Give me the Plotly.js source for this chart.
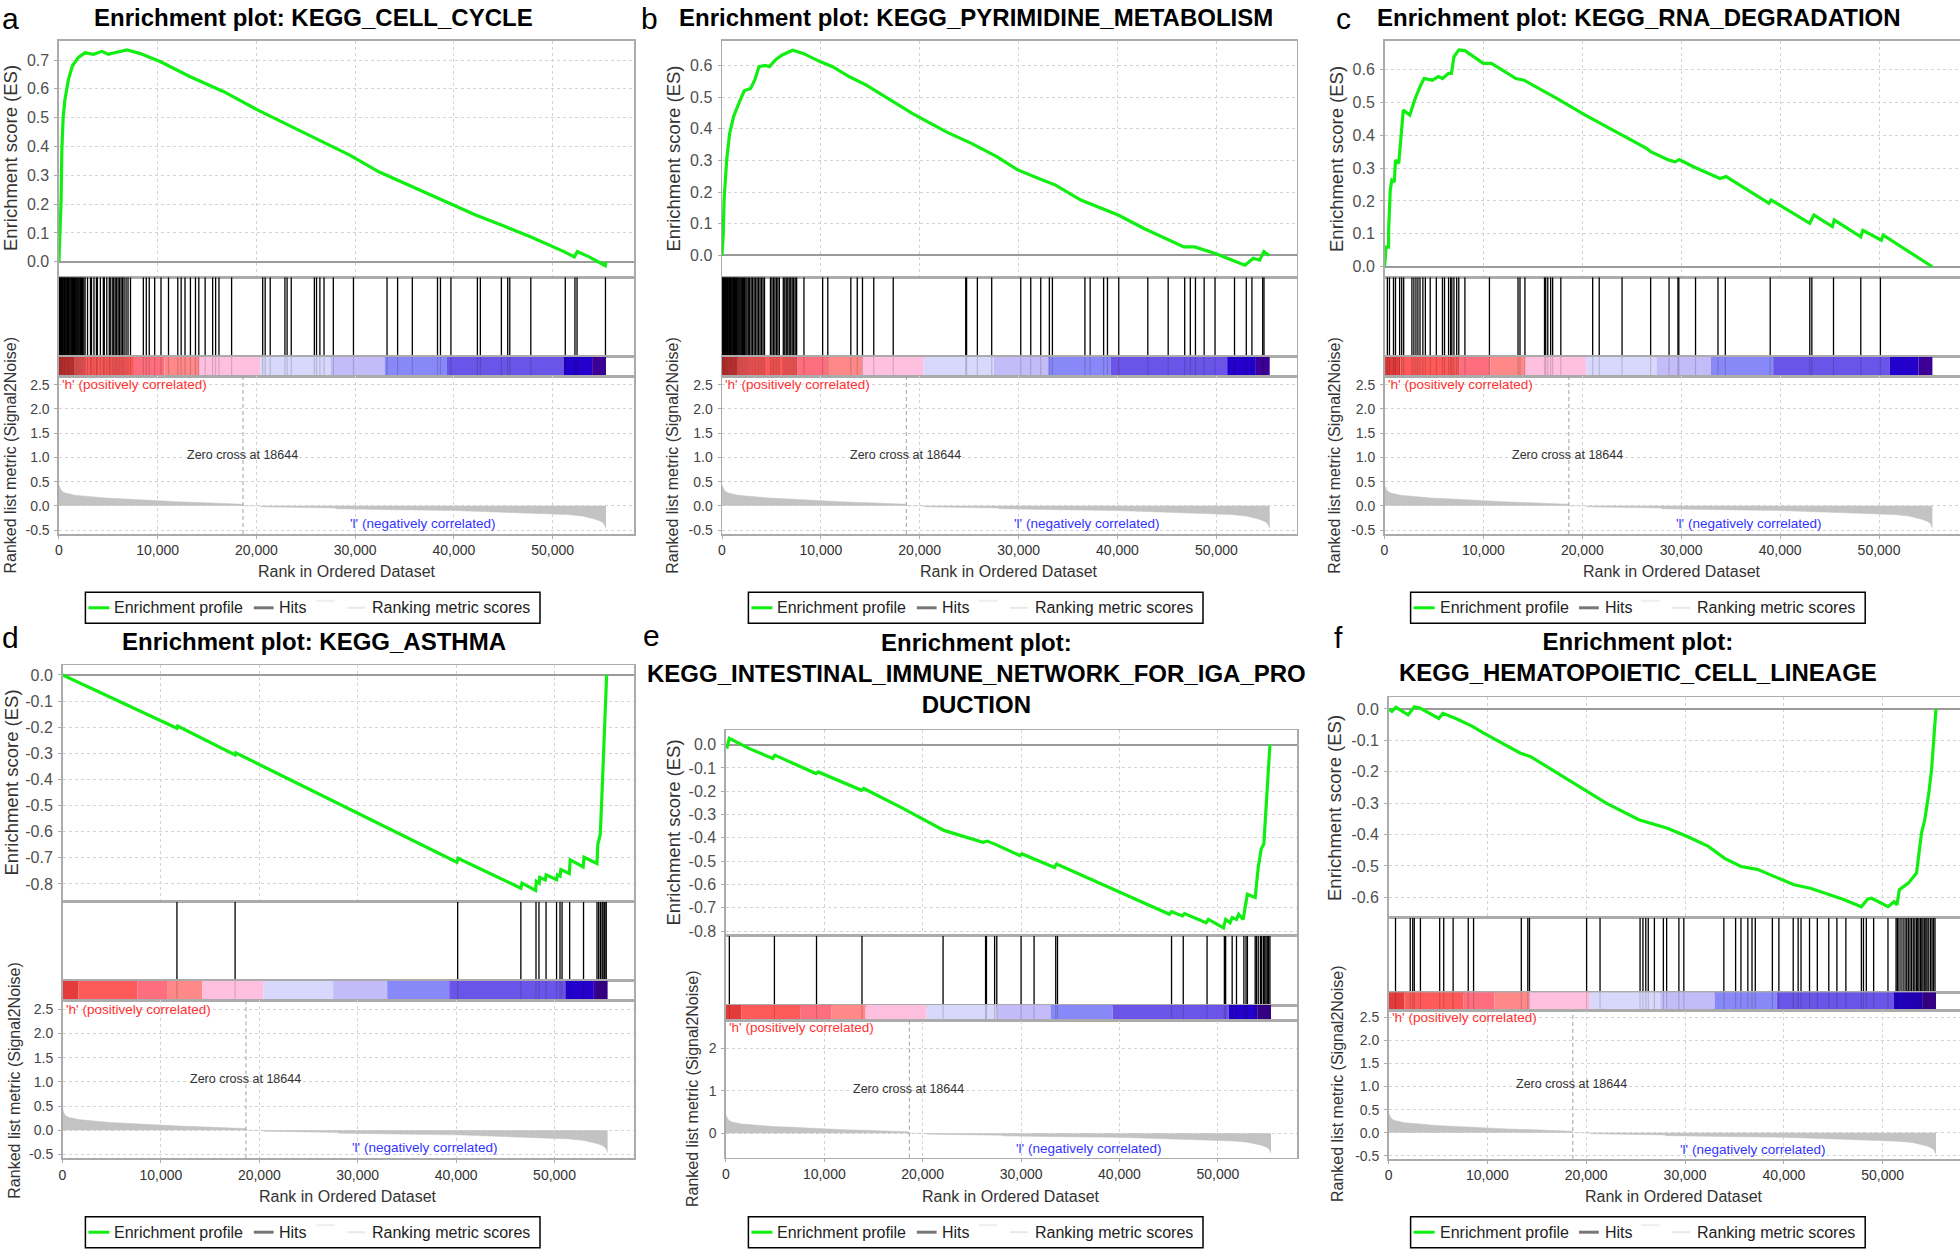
<!DOCTYPE html>
<html>
<head>
<meta charset="utf-8">
<script src="https://cdn.plot.ly/plotly-3.0.1.min.js"></script>
<style>html,body{margin:0;padding:0;background:#fff;}#chart{width:1960px;height:1249px;}</style>
</head>
<body>
<div id="chart"></div>
<script>
// ================= DATA =================
const panelLetters = ['a', 'b', 'c', 'd', 'e', 'f'];
const panelTitles = [
  'Enrichment plot: KEGG_CELL_CYCLE',
  'Enrichment plot: KEGG_PYRIMIDINE_METABOLISM',
  'Enrichment plot: KEGG_RNA_DEGRADATION',
  'Enrichment plot: KEGG_ASTHMA',
  'Enrichment plot:<br>KEGG_INTESTINAL_IMMUNE_NETWORK_FOR_IGA_PRO<br>DUCTION',
  'Enrichment plot:<br>KEGG_HEMATOPOIETIC_CELL_LINEAGE'
];
const esAxisTitle = 'Enrichment score (ES)';
const metricAxisTitle = 'Ranked list metric (Signal2Noise)';
const rankAxisTitle = 'Rank in Ordered Dataset';
const legendLabels = ['Enrichment profile', 'Hits', 'Ranking metric scores'];
const posLabel = "'h' (positively correlated)";
const negLabel = "'l' (negatively correlated)";
const zeroCross = 18644;
const zeroCrossLabel = 'Zero cross at 18644';

// Enrichment score curves (rank, ES)
const esRank_a = [0,220,300,430,600,950,1370,2000,2650,3500,4350,5000,5620,6900,8180,10300,13300,16700,20100,23900,26500,29450,32400,35400,38800,42200,45200,47750,51150,52200,52500,53700,55330,55400];
const esValue_a = [0,0.21,0.39,0.50,0.56,0.63,0.68,0.71,0.725,0.72,0.73,0.72,0.725,0.735,0.723,0.694,0.642,0.59,0.527,0.463,0.422,0.37,0.312,0.266,0.214,0.162,0.122,0.087,0.035,0.017,0.035,0.017,-0.014,0];

const esRank_b = [0,130,210,470,770,1190,1830,2250,2890,3320,3740,4380,4800,5450,6090,7150,8210,9910,11190,12890,14600,16300,19280,22680,25230,27790,29910,32040,33740,36300,38430,40130,42680,45230,46720,47790,49910,51620,52900,53740,54380,54810,55360];
const esValue_b = [0,0.07,0.175,0.30,0.385,0.44,0.49,0.52,0.527,0.554,0.596,0.60,0.596,0.619,0.633,0.648,0.638,0.612,0.596,0.564,0.538,0.506,0.448,0.39,0.354,0.312,0.27,0.243,0.222,0.175,0.148,0.127,0.085,0.048,0.027,0.027,0.006,-0.015,-0.031,-0.009,-0.015,0.012,0];

const esRank_c = [0,165,410,415,580,740,990,1110,1440,1650,1900,2560,3050,3590,4000,4830,5450,5860,6480,6770,7020,7510,8130,9990,10810,13290,14110,16180,17420,20300,24010,26490,26900,28770,29390,29800,31240,33510,33920,34540,38880,39080,43000,43420,45280,45480,48160,48370,50230,50430,55390];
const esValue_c = [0,0.06,0.06,0.11,0.233,0.263,0.258,0.324,0.314,0.38,0.476,0.461,0.507,0.547,0.572,0.567,0.578,0.572,0.588,0.588,0.638,0.659,0.657,0.618,0.618,0.572,0.567,0.532,0.512,0.461,0.40,0.36,0.35,0.324,0.319,0.326,0.304,0.274,0.268,0.274,0.193,0.203,0.132,0.157,0.122,0.142,0.091,0.111,0.081,0.096,0];

const esRank_d = [0,11630,11700,17540,17600,40080,40200,46580,46700,48080,48150,48450,48500,49060,49150,50210,50300,50560,50650,51500,51600,52910,53000,54320,54400,54650,54800,54950,55100,55300];
const esValue_d = [0,-0.204,-0.196,-0.306,-0.298,-0.717,-0.702,-0.816,-0.797,-0.825,-0.79,-0.797,-0.775,-0.785,-0.765,-0.784,-0.765,-0.77,-0.745,-0.76,-0.708,-0.735,-0.698,-0.722,-0.65,-0.61,-0.48,-0.33,-0.17,0];

const esRank_e = [0,130,350,2330,4760,4980,9160,9380,13790,14010,17750,22160,26120,26560,27440,29870,30090,31410,33390,33610,39780,45070,45290,46390,46610,48810,49030,50570,50790,51230,51450,51890,52110,52560,53000,53790,54100,54410,54670,54850,55110,55290];
const esValue_e = [-0.005,-0.009,0.027,-0.016,-0.059,-0.045,-0.124,-0.117,-0.196,-0.188,-0.268,-0.368,-0.419,-0.414,-0.429,-0.476,-0.469,-0.491,-0.527,-0.512,-0.628,-0.728,-0.717,-0.735,-0.725,-0.764,-0.75,-0.786,-0.75,-0.764,-0.742,-0.75,-0.728,-0.75,-0.642,-0.656,-0.527,-0.447,-0.426,-0.296,-0.124,0];

const esRank_f = [0,330,740,1980,2600,3220,5080,5500,6740,8390,9630,13350,14380,19960,22020,25330,26980,28220,30290,32360,34010,35660,37310,38970,41030,42690,44750,45990,47850,48470,48880,50540,51160,51450,51690,52600,53430,53640,53930,54260,54670,54950,55250,55400];
const esValue_f = [0,-0.008,0.005,-0.019,0.007,0.002,-0.03,-0.014,-0.03,-0.054,-0.077,-0.141,-0.152,-0.258,-0.30,-0.353,-0.369,-0.38,-0.407,-0.438,-0.476,-0.502,-0.511,-0.534,-0.56,-0.571,-0.592,-0.606,-0.63,-0.606,-0.603,-0.63,-0.614,-0.624,-0.576,-0.555,-0.523,-0.46,-0.396,-0.354,-0.269,-0.194,-0.067,0];

// Hit positions (rank of each gene-set member)
const hits_a = [30,90,150,210,280,350,420,500,570,640,720,800,880,960,1040,1130,1210,1300,1390,1480,1570,1660,1760,1860,1960,2060,2170,2280,2400,2520,2650,2900,3200,3300,3550,3800,3900,4200,4500,4600,4850,5100,5200,5400,5550,5700,5850,6000,6150,6300,6450,6600,6800,7000,7250,8550,8850,9150,9700,10340,11100,12040,12380,12770,13320,13830,14170,14810,15570,15870,16210,17490,20640,20890,21400,22890,23110,23530,25870,26090,26430,26850,27790,29830,33230,34300,35790,38340,38640,39700,42380,42680,44810,45450,45660,47790,51280,52260,52470,55350];
const hits_b = [20,80,140,200,260,330,400,470,540,610,690,770,850,930,1010,1090,1180,1270,1360,1450,1540,1640,1740,1840,1950,2060,2170,2290,2410,2530,2660,2800,2950,3100,3250,3400,3550,3700,3850,4000,4150,4300,4900,5050,5200,5350,5500,5650,5800,6200,6350,6500,6650,6800,6950,7100,7250,7400,7550,8290,10180,10700,13030,13680,14210,15350,17320,24650,24740,25830,27280,30220,31230,32240,33110,33420,36710,37240,38600,38990,40130,43070,45130,46800,47370,47890,48770,49870,51840,53030,53600,54690,54820];
const hits_c = [290,500,910,1110,1530,1740,1940,2770,2970,3180,3380,3590,3880,4130,4620,5240,5860,6070,6480,6690,6810,7020,7300,7510,8130,10610,13500,13700,14200,16180,16300,16510,16800,17000,17830,21050,21710,24020,26910,28770,29670,29760,31450,33720,34460,39000,43000,43210,45400,48160,50140];
const hits_d = [11630,17540,40160,46580,48120,48420,49140,50210,50560,50770,51540,52950,54320,54490,54660,54830,54920,55050,55130,55260];
const hits_e = [350,4930,9210,13830,22070,26390,26480,27310,27530,30000,31320,33520,33700,45290,46480,48900,50660,50790,51450,51890,52640,52860,53000,53790,53920,54100,54320,54450,54630,54760,54890,55020,55150,55290];
const hits_f = [700,2190,2440,2600,3220,5170,5580,6530,8060,8600,13430,14090,14260,20040,21400,25450,25740,26030,26280,26900,27810,28140,29380,29880,33930,35120,35660,36360,36780,37110,38840,39500,40950,41450,41740,42600,43390,44550,45370,46280,47850,48060,48350,49090,50540,51360,51490,51650,51860,52070,52270,52440,52600,52770,52930,53100,53260,53430,53550,53680,53840,53970,54090,54260,54380,54500,54670,54850,55000,55150,55300];

// Ranked list metric (shared ranked list)
const metricRank = [0,80,200,400,700,1000,1600,2700,3800,4800,6900,8500,10000,12000,14100,16500,18600,18650,20400,20450,23000,23050,28000,28050,34000,34050,40000,44000,47000,49500,51500,53000,53700,54400,54900,55200,55400];
const metricValue = [0.43,0.38,0.33,0.29,0.26,0.25,0.22,0.2,0.18,0.16,0.14,0.12,0.1,0.085,0.07,0.05,0.035,0,0,-0.02,-0.025,-0.04,-0.045,-0.06,-0.065,-0.08,-0.095,-0.12,-0.14,-0.16,-0.18,-0.21,-0.24,-0.28,-0.32,-0.37,-0.46];

// Colour-bar bands of the ranked list (rank edges)
const bandEdges = [0,1600,7600,10700,14200,20400,27500,33000,39300,51100,54000,55400];

// Tick values
const rankTicks = [0,10000,20000,30000,40000,50000];
const esTicks_a = [0,0.1,0.2,0.3,0.4,0.5,0.6,0.7];
const esTicks_b = [0,0.1,0.2,0.3,0.4,0.5,0.6];
const esTicks_c = [0,0.1,0.2,0.3,0.4,0.5,0.6];
const esTicks_d = [0,-0.1,-0.2,-0.3,-0.4,-0.5,-0.6,-0.7,-0.8];
const esTicks_e = [0,-0.1,-0.2,-0.3,-0.4,-0.5,-0.6,-0.7,-0.8];
const esTicks_f = [0,-0.1,-0.2,-0.3,-0.4,-0.5,-0.6];
const metricTicks = [-0.5,0,0.5,1,1.5,2,2.5];
const metricTicks_e = [0,1,2];

// ================= STYLE / LAYOUT =================
const bandColors = ['#e43c3c','#ff5a5a','#ff6e7e','#ff8888','#ffc0e0','#d8d8fc','#c4bcf8','#8888f8','#6a55e8','#2400cc','#3c0096'];
const W = 1960, H = 1249;
const FONT = '"Liberation Sans", Arial, sans-serif';
const BORDER = '#ababab';
const GRID = '#d4d4d4';
const GREEN = '#11ee11';
const px = x => x / W;
const py = y => 1 - y / H;

const panels = [
  {esR: esRank_a, esV: esValue_a, hits: hits_a, esTicks: esTicks_a, metTicks: metricTicks, metFmt: 1},
  {esR: esRank_b, esV: esValue_b, hits: hits_b, esTicks: esTicks_b, metTicks: metricTicks, metFmt: 1},
  {esR: esRank_c, esV: esValue_c, hits: hits_c, esTicks: esTicks_c, metTicks: metricTicks, metFmt: 1},
  {esR: esRank_d, esV: esValue_d, hits: hits_d, esTicks: esTicks_d, metTicks: metricTicks, metFmt: 1},
  {esR: esRank_e, esV: esValue_e, hits: hits_e, esTicks: esTicks_e, metTicks: metricTicks_e, metFmt: 0},
  {esR: esRank_f, esV: esValue_f, hits: hits_f, esTicks: esTicks_f, metTicks: metricTicks, metFmt: 1}
];

const geom = [
  {L:58.9, R:634.3, esTop:40.7, esBot:277.3, hitsBot:356.7, cbBot:376.4, metBot:534, xmax:58270, esRange:[-0.054,0.767], metRange:[-0.58,2.67],
   title:{x:313,y:17.5}, letter:{x:10,y:0.5}, esTitle:{x:10.5,y:158.5}, metTitle:{x:9.5,y:455}, rankTitle:{y:571.7}, legend:{x:85.4,y:592.3}},
  {L:722, R:1296.8, esTop:40.7, esBot:277.3, hitsBot:356.7, cbBot:376.4, metBot:534, xmax:58140, esRange:[-0.069,0.678], metRange:[-0.58,2.67],
   title:{x:976,y:17.5}, letter:{x:649,y:0.5}, esTitle:{x:672.6,y:159}, metTitle:{x:673,y:455.8}, rankTitle:{y:571.7}, legend:{x:748.4,y:592.3}},
  {L:1384.5, R:1960, esTop:40.7, esBot:277.3, hitsBot:356.7, cbBot:376.4, metBot:534, xmax:58190, esRange:[-0.032,0.687], metRange:[-0.58,2.67],
   title:{x:1639,y:17.5}, letter:{x:1343,y:0.5}, esTitle:{x:1336,y:159}, metTitle:{x:1335,y:455.8}, rankTitle:{y:571.7}, legend:{x:1410.6,y:592.3}},
  {L:62.5, R:634.3, esTop:665, esBot:901.7, hitsBot:980.7, cbBot:1000, metBot:1158.3, xmax:58110, esRange:[-0.868,0.038], metRange:[-0.58,2.69],
   title:{x:313.5,y:641.7}, letter:{x:10,y:619}, esTitle:{x:10.5,y:783}, metTitle:{x:13.7,y:1080}, rankTitle:{y:1196}, legend:{x:85.4,y:1216.7}},
  {L:725.9, R:1297, esTop:730, esBot:935.7, hitsBot:1005, cbBot:1020.7, metBot:1157.7, xmax:58040, esRange:[-0.82,0.063], metRange:[-0.574,2.65],
   title:{x:976,y:673}, letter:{x:651,y:617}, esTitle:{x:672.5,y:833}, metTitle:{x:692,y:1089}, rankTitle:{y:1196}, legend:{x:748.4,y:1216.7}},
  {L:1388.6, R:1960, esTop:697.3, esBot:917.7, hitsBot:992.3, cbBot:1010.7, metBot:1159, xmax:57830, esRange:[-0.665,0.037], metRange:[-0.565,2.64],
   title:{x:1638,y:657}, letter:{x:1338,y:619}, esTitle:{x:1334,y:808}, metTitle:{x:1337,y:1084}, rankTitle:{y:1196}, legend:{x:1410.6,y:1216.7}}
];

const traces = [];
const layout = {
  width: W, height: H,
  margin: {l:0, r:0, t:0, b:0},
  paper_bgcolor: '#ffffff', plot_bgcolor: '#ffffff',
  showlegend: false,
  font: {family: FONT, color: '#222'},
  shapes: [], annotations: []
};

const axName = (letter, i) => letter + 'axis' + (i === 1 ? '' : i);
const axRef = (letter, i) => letter + (i === 1 ? '' : i);

function hitLines(h) {
  const x = [], y = [];
  h.forEach(r => { x.push(r, r, null); y.push(0, 1, null); });
  return {x, y};
}

panels.forEach((P, p) => {
  const g = geom[p];
  const iE = p * 4 + 1, iH = p * 4 + 2, iC = p * 4 + 3, iM = p * 4 + 4;
  const dom = [px(g.L), Math.min(1, px(g.R))];
  const baseX = {domain: dom, range: [0, g.xmax], showline: true, mirror: true, linecolor: BORDER, linewidth: 1.5,
                 zeroline: false, fixedrange: true, ticks: '', showticklabels: false, showgrid: false};
  const baseY = {showline: true, mirror: true, linecolor: BORDER, linewidth: 1.5, zeroline: false, fixedrange: true,
                 ticks: '', showticklabels: false, showgrid: false};

  // --- ES subplot ---
  layout[axName('x', iE)] = Object.assign({}, baseX, {anchor: axRef('y', iE), tickvals: rankTicks, showgrid: true,
    gridcolor: GRID, griddash: '3px,3px', gridwidth: 1});
  layout[axName('y', iE)] = Object.assign({}, baseY, {anchor: axRef('x', iE), domain: [py(g.esBot), py(g.esTop)],
    range: g.esRange, tickvals: P.esTicks, ticktext: P.esTicks.map(v => v.toFixed(1)), showticklabels: true,
    ticks: 'outside', ticklen: 3, tickcolor: BORDER, ticklabelstandoff: 2,
    tickfont: {size: 16, color: '#505050', family: FONT},
    showgrid: true, gridcolor: GRID, griddash: '3px,3px', gridwidth: 1,
    zeroline: true, zerolinecolor: '#9a9a9a', zerolinewidth: 2});
  traces.push({type: 'scatter', mode: 'lines', x: P.esR, y: P.esV, xaxis: axRef('x', iE), yaxis: axRef('y', iE),
    line: {color: GREEN, width: 3.2}, hoverinfo: 'skip', name: legendLabels[0]});

  // --- Hits subplot ---
  layout[axName('x', iH)] = Object.assign({}, baseX, {anchor: axRef('y', iH)});
  layout[axName('y', iH)] = Object.assign({}, baseY, {anchor: axRef('x', iH), domain: [py(g.hitsBot), py(g.esBot)], range: [0, 1]});
  const hl = hitLines(P.hits);
  traces.push({type: 'scatter', mode: 'lines', x: hl.x, y: hl.y, xaxis: axRef('x', iH), yaxis: axRef('y', iH),
    line: {color: '#000000', width: 1.3}, hoverinfo: 'skip', name: legendLabels[1]});

  // --- Colour bar subplot ---
  layout[axName('x', iC)] = Object.assign({}, baseX, {anchor: axRef('y', iC)});
  layout[axName('y', iC)] = Object.assign({}, baseY, {anchor: axRef('x', iC), domain: [py(g.cbBot), py(g.hitsBot)], range: [0, 1]});
  const mids = [], widths = [], ones = [];
  for (let k = 0; k < bandEdges.length - 1; k++) {
    mids.push((bandEdges[k] + bandEdges[k + 1]) / 2);
    widths.push(bandEdges[k + 1] - bandEdges[k]);
    ones.push(1);
  }
  traces.push({type: 'bar', x: mids, y: ones, width: widths, base: 0, xaxis: axRef('x', iC), yaxis: axRef('y', iC),
    marker: {color: bandColors, line: {width: 0}}, hoverinfo: 'skip'});
  traces.push({type: 'scatter', mode: 'lines', x: hl.x, y: hl.y, xaxis: axRef('x', iC), yaxis: axRef('y', iC),
    line: {color: 'rgba(0,0,0,0.16)', width: 1.2}, hoverinfo: 'skip'});

  // --- Ranked metric subplot ---
  layout[axName('x', iM)] = Object.assign({}, baseX, {anchor: axRef('y', iM), tickvals: rankTicks, tickformat: ',',
    showticklabels: true, ticks: 'outside', ticklen: 3, tickcolor: BORDER,
    tickfont: {size: 14, color: '#333', family: FONT},
    showgrid: true, gridcolor: GRID, griddash: '3px,3px', gridwidth: 1});
  layout[axName('y', iM)] = Object.assign({}, baseY, {anchor: axRef('x', iM), domain: [py(g.metBot), py(g.cbBot)],
    range: g.metRange, tickvals: P.metTicks, ticktext: P.metTicks.map(v => v.toFixed(P.metFmt)), showticklabels: true,
    ticks: 'outside', ticklen: 3, tickcolor: BORDER, ticklabelstandoff: 2,
    tickfont: {size: 14, color: '#444', family: FONT},
    showgrid: true, gridcolor: GRID, griddash: '3px,3px', gridwidth: 1});
  traces.push({type: 'scatter', mode: 'lines', x: metricRank, y: metricValue, xaxis: axRef('x', iM), yaxis: axRef('y', iM),
    fill: 'tozeroy', fillcolor: '#c3c3c3', line: {color: '#c3c3c3', width: 0.5}, hoverinfo: 'skip', name: legendLabels[2]});

  // zero-cross dashed line
  layout.shapes.push({type: 'line', xref: axRef('x', iM), yref: axRef('y', iM) + ' domain', x0: zeroCross, x1: zeroCross, y0: 0, y1: 1,
    line: {color: '#a0a0a0', width: 1, dash: '4px,3px'}});

  // in-plot labels
  layout.annotations.push({xref: axRef('x', iM), yref: axRef('y', iM), x: 150, y: 2.5, xanchor: 'left', yanchor: 'middle',
    text: posLabel, showarrow: false, font: {size: 13.5, color: '#ff3333', family: FONT}});
  layout.annotations.push({xref: axRef('x', iM), yref: axRef('y', iM), x: 36820, y: -0.36, xanchor: 'center', yanchor: 'middle',
    text: negLabel, showarrow: false, font: {size: 13.5, color: '#3333ff', family: FONT}});
  layout.annotations.push({xref: axRef('x', iM), yref: axRef('y', iM), x: 18550, y: 1.05, xanchor: 'center', yanchor: 'middle',
    text: zeroCrossLabel, showarrow: false, font: {size: 12.5, color: '#333', family: FONT}});

  // titles and axis titles (paper coordinates)
  layout.annotations.push({xref: 'paper', yref: 'paper', x: px(g.title.x), y: py(g.title.y), xanchor: 'center', yanchor: 'middle',
    text: '<b>' + panelTitles[p] + '</b>', showarrow: false, font: {size: 24, color: '#000', family: FONT}});
  layout.annotations.push({xref: 'paper', yref: 'paper', x: px(g.letter.x), y: py(g.letter.y), xanchor: 'center', yanchor: 'top',
    text: panelLetters[p], showarrow: false, font: {size: 30, color: '#000', family: FONT}});
  layout.annotations.push({xref: 'paper', yref: 'paper', x: px(g.esTitle.x), y: py(g.esTitle.y), xanchor: 'center', yanchor: 'middle',
    textangle: -90, text: esAxisTitle, showarrow: false, font: {size: 18.5, color: '#333', family: FONT}});
  layout.annotations.push({xref: 'paper', yref: 'paper', x: px(g.metTitle.x), y: py(g.metTitle.y), xanchor: 'center', yanchor: 'middle',
    textangle: -90, text: metricAxisTitle, showarrow: false, font: {size: 16, color: '#333', family: FONT}});
  layout.annotations.push({xref: 'paper', yref: 'paper', x: px((g.L + g.R) / 2), y: py(g.rankTitle.y), xanchor: 'center', yanchor: 'middle',
    text: rankAxisTitle, showarrow: false, font: {size: 16, color: '#333', family: FONT}});

  // legend box
  const Lb = g.legend.x, Tb = g.legend.y, yc = Tb + 15.5;
  layout.shapes.push({type: 'rect', xref: 'paper', yref: 'paper', x0: px(Lb), x1: px(Lb + 454.6), y0: py(Tb), y1: py(Tb + 31),
    line: {color: '#000', width: 1.5}, fillcolor: 'rgba(0,0,0,0)'});
  const seg = (x0, x1, y, color, w) => layout.shapes.push({type: 'line', xref: 'paper', yref: 'paper',
    x0: px(Lb + x0), x1: px(Lb + x1), y0: py(y), y1: py(y), line: {color: color, width: w}});
  seg(3, 24, yc, GREEN, 3);
  seg(168.4, 188.2, yc, '#777', 3);
  seg(230.3, 249.2, yc - 7, '#eeeeee', 2);
  seg(261.8, 279.6, yc, '#e8e8e8', 2);
  const lt = (x, t) => layout.annotations.push({xref: 'paper', yref: 'paper', x: px(Lb + x), y: py(yc), xanchor: 'left', yanchor: 'middle',
    text: t, showarrow: false, font: {size: 16, color: '#222', family: FONT}});
  lt(27, legendLabels[0]);
  lt(192, legendLabels[1]);
  lt(284.5, legendLabels[2]);
});

Plotly.newPlot('chart', traces, layout, {displayModeBar: false, staticPlot: true});
</script>
</body>
</html>
